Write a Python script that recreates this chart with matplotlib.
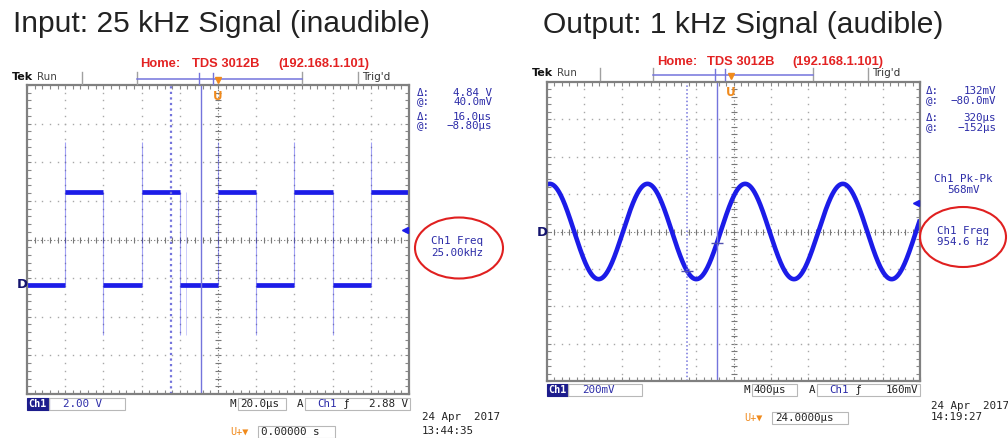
import numpy as np
import matplotlib
matplotlib.use("Agg")
import matplotlib.pyplot as plt
from matplotlib.patches import Rectangle, Ellipse

W, H = 1008, 438

# input scope: 25 kHz square wave, 20 us/div, 2 V/div
in_rise_us = [-80, -40, 0, 40, 80]
in_fall_us = [-60, -20, 20, 60]
in_low_v = 0.0
in_high_v = 4.84
in_spike_up_v = 7.4
in_spike_dn_v = -2.6
in_cursor_us = [-24.8, -8.80]
in_trig_v = 2.88

# output scope: ~1 kHz sine, 400 us/div, 200 mV/div
out_freq_hz = 954.6
out_amp_mv = 255.0
out_trig_mv = 160.0
out_cursor_us = [-472, -152]

BLUE = '#1c1ce8'
CUR = '#7474dc'
TXT = '#2c2ca8'
GRID = '#a8a8a8'
MONO = 'DejaVu Sans Mono'

fig = plt.figure(figsize=(W / 100, H / 100), dpi=100)


def graticule(ax, xlim, ylim):
    ax.set_xlim(*xlim)
    ax.set_ylim(*ylim)
    tr = ax.transAxes
    for k in range(1, 10):
        ys = np.arange(41) / 40.0
        if k == 5:
            ax.plot([0.5, 0.5], [0, 1], ls=(0, (1, 2)), lw=0.8, color='#787878', transform=tr)
            ax.plot(np.full(41, 0.5), ys, ls='none', marker='_', ms=5, mew=0.8, color='#787878', transform=tr)
        else:
            ax.plot(np.full(41, k / 10), ys, ls='none', marker='s', ms=1.0, color=GRID, mew=0, transform=tr)
    for j in range(1, 8):
        xs = np.arange(51) / 50.0
        if j == 4:
            ax.plot([0, 1], [0.5, 0.5], ls=(0, (1, 2)), lw=0.8, color='#787878', transform=tr)
            ax.plot(xs, np.full(51, 0.5), ls='none', marker='|', ms=5, mew=0.8, color='#787878', transform=tr)
        else:
            ax.plot(xs, np.full(51, j / 8), ls='none', marker='s', ms=1.0, color=GRID, mew=0, transform=tr)
    ax.set_xticks(np.linspace(xlim[0], xlim[1], 51))
    ax.set_yticks(np.linspace(ylim[0], ylim[1], 41))
    ax.tick_params(direction='in', length=3, width=0.8, color='#888888',
                   top=True, right=True, labelbottom=False, labelleft=False)
    for s in ax.spines.values():
        s.set_color('#808080')
        s.set_linewidth(1.6)


def fax(x0, y0, x1, y1):
    return fig.add_axes([x0 / W, 1 - y1 / H, (x1 - x0) / W, (y1 - y0) / H])


# ---------- left scope: square wave ----------
axl = fax(27, 85, 409, 394)
gnd_div = -1.18
vdiv = 2.0
graticule(axl, (-100, 100), ((-4 - gnd_div) * vdiv, (4 - gnd_div) * vdiv))

bounds = [-100] + sorted(in_rise_us + in_fall_us) + [100]
starts, ends, levels = [], [], []
for i in range(len(bounds) - 1):
    starts.append(bounds[i])
    ends.append(bounds[i + 1])
    levels.append(in_high_v if bounds[i] in in_rise_us else in_low_v)
axl.vlines(in_rise_us, in_low_v, in_spike_up_v, color=BLUE, lw=0.8, alpha=0.4)
axl.vlines(in_fall_us, in_spike_dn_v, in_high_v, color=BLUE, lw=0.8, alpha=0.4)
axl.vlines([f + 3.4 for f in in_fall_us[1:2]], in_spike_dn_v, in_high_v, color=BLUE, lw=0.7, alpha=0.22)
axl.hlines(levels, starts, ends, color=BLUE, lw=3.4)
axl.axvline(in_cursor_us[0], color=CUR, lw=1.6, ls=(0, (1, 1.5)))
axl.axvline(in_cursor_us[1], color=CUR, lw=1.0)

# ---------- right scope: sine ----------
axr = fax(547, 82, 920, 381)
graticule(axr, (-2000 + 24, 2000 + 24), (-800, 800))
phi = np.arcsin(out_trig_mv / out_amp_mv)
t = np.linspace(-1976, 2024, 2000)
v = out_amp_mv * np.sin(2 * np.pi * out_freq_hz * t * 1e-6 + phi)
axr.plot(t, v, color=BLUE, lw=3.3, solid_capstyle='butt')
axr.axvline(out_cursor_us[0], color=CUR, lw=1.1, ls=(0, (1, 1.5)))
axr.axvline(out_cursor_us[1], color=CUR, lw=1.0)
cv = out_amp_mv * np.sin(2 * np.pi * out_freq_hz * np.array(out_cursor_us) * 1e-6 + phi)
axr.plot(out_cursor_us, cv, ls='none', marker='_', ms=8, mew=1.0, color='#5050b0')

# ---------- overlay in pixel coordinates ----------
ov = fig.add_axes([0, 0, 1, 1], zorder=5)
ov.set_xlim(0, W)
ov.set_ylim(H, 0)
ov.axis('off')


def tx(x, y, s, size=7.8, color=TXT, family=MONO, **kw):
    kw.setdefault('va', 'center')
    ov.text(x, y, s, fontsize=size, color=color, family=family, **kw)


def box(x0, y0, x1, y1, fc='none', ec='#b8b8b8'):
    ov.add_patch(Rectangle((x0, y0), x1 - x0, y1 - y0, fc=fc, ec=ec, lw=0.8))


ov.text(13, 32, 'Input: 25 kHz Signal (inaudible)', fontsize=21.6,
        family='Liberation Sans', color='#222222', va='baseline')
ov.text(543, 33, 'Output: 1 kHz Signal (audible)', fontsize=21.6,
        family='Liberation Sans', color='#222222', va='baseline')


def scope_frame(x0, x1, ytop, yred, home_x, bar, tek_x, trig_x, orange_x, cur_marks,
                dx, side, ell, gnd_y, trig_y, bottom, date, tpos):
    # red header
    for xx, s in zip(home_x, ['Home:', 'TDS 3012B', '(192.168.1.101)']):
        tx(xx, yred, s, size=9.3, color='#e32222', family='Liberation Sans', weight='bold')
    yb = bar[3]
    tx(tek_x, yb - 2, 'Tek', size=8, color='#111111', family='DejaVu Sans', weight='bold')
    tx(tek_x + 25, yb - 2, 'Run', size=7.5, color='#444444', family='DejaVu Sans')
    for xx in [bar[0], bar[1], bar[2]]:
        ov.plot([xx, xx], [yb - 7, yb + 5], color='#a0a0a0', lw=1)
    ov.plot([bar[1], bar[2]], [yb, yb], color=CUR, lw=1.1)
    for xx in cur_marks:
        ov.plot([xx, xx], [yb - 6, yb + 5], color=CUR, lw=1)
    ov.plot([trig_x - 4, trig_x - 4], [yb - 7, yb + 5], color='#a0a0a0', lw=1)
    tx(trig_x, yb - 2, "Trig'd", size=7.5, color='#333333', family='DejaVu Sans')
    ov.plot([orange_x], [yb + 1], marker='v', ms=5, color='#f08a1c')
    tx(orange_x, ytop + 11, 'U', size=8.5, color='#f08a1c', family='DejaVu Sans',
       weight='bold', ha='center')
    # cursor readouts
    for (yy, a, b) in side:
        tx(dx[0], yy, a)
        tx(dx[1], yy, b, ha='right')
    ov.add_patch(Ellipse(ell[0], ell[1], ell[2], fc='none', ec='#e02020', lw=1.5))
    # ground and trigger markers
    tx(x0 - 10, gnd_y, 'D', size=9.5, color='#14146e', family='DejaVu Sans', weight='bold')
    ov.plot([x1 - 4], [trig_y], marker='<', ms=4, color=BLUE)
    # bottom status line
    (yc, ch_x1, sc_x1, sc_txt, m_x, m_box, tb_txt, a_x, a_box, trg_txt) = bottom
    box(x0, yc - 6, ch_x1, yc + 6, fc='#1c1c8c', ec='#1c1c8c')
    tx(x0 + 1.5, yc, 'Ch1', size=7.3, color='white', weight='bold')
    box(ch_x1, yc - 6, sc_x1, yc + 6)
    tx(ch_x1 + 14, yc, sc_txt)
    tx(m_x, yc, 'M', color='#222222')
    box(m_box[0], yc - 6, m_box[1], yc + 6)
    tx(m_box[0] + 2, yc, tb_txt, color='#222222')
    tx(a_x, yc, 'A', color='#222222')
    box(a_box[0], yc - 6, a_box[1], yc + 6)
    tx(a_box[0] + 12, yc, 'Ch1')
    tx(a_box[0] + 40, yc, 'ƒ', color='#222222', family='DejaVu Sans')
    tx(a_box[1] - 2, yc, trg_txt, ha='right', color='#222222')
    tx(date[0], date[1], '24 Apr  2017', color='#222222')
    tx(date[0], date[2], date[3], color='#222222')
    tx(tpos[0], tpos[1], 'U+▼', color='#f08a1c', size=7.3)
    box(tpos[2], tpos[1] - 6, tpos[3], tpos[1] + 6)
    tx(tpos[2] + 3, tpos[1], tpos[4], color='#222222')


scope_frame(27, 409, 85, 64, [140, 192, 278], (82, 137, 302, 79), 12, 362, 218, [199, 213],
            (417, 492),
            [(93, 'Δ:', '4.84 V'), (102, '@:', '40.0mV'), (117, 'Δ:', '16.0µs'), (126, '@:', '−8.80µs')],
            ((459, 248), 88, 61), 285, 230,
            (404, 49, 125, '2.00 V', 230, (238, 286), '20.0µs', 297, (305, 410), '2.88 V'),
            (422, 417, 431, '13:44:35'), (230, 432, 258, 335, '0.00000 s'))
tx(457, 241, 'Ch1 Freq', ha='center')
tx(457, 253, '25.00kHz', ha='center')

scope_frame(547, 920, 82, 62, [657, 707, 792], (600, 653, 813, 75), 532, 872, 731, [715, 725],
            (926, 996),
            [(91, 'Δ:', '132mV'), (101, '@:', '−80.0mV'), (118, 'Δ:', '320µs'), (128, '@:', '−152µs')],
            ((963, 237), 86, 60), 232, 203,
            (390, 568, 642, '200mV', 744, (752, 797), '400µs', 809, (817, 920), '160mV'),
            (931, 406, 417, '14:19:27'), (744, 418, 772, 848, '24.0000µs'))
tx(963, 179, 'Ch1 Pk-Pk', ha='center')
tx(963, 190, '568mV', ha='center')
tx(963, 231, 'Ch1 Freq', ha='center')
tx(963, 242, '954.6 Hz', ha='center')

fig.savefig('out.png', dpi=100, facecolor='white')
